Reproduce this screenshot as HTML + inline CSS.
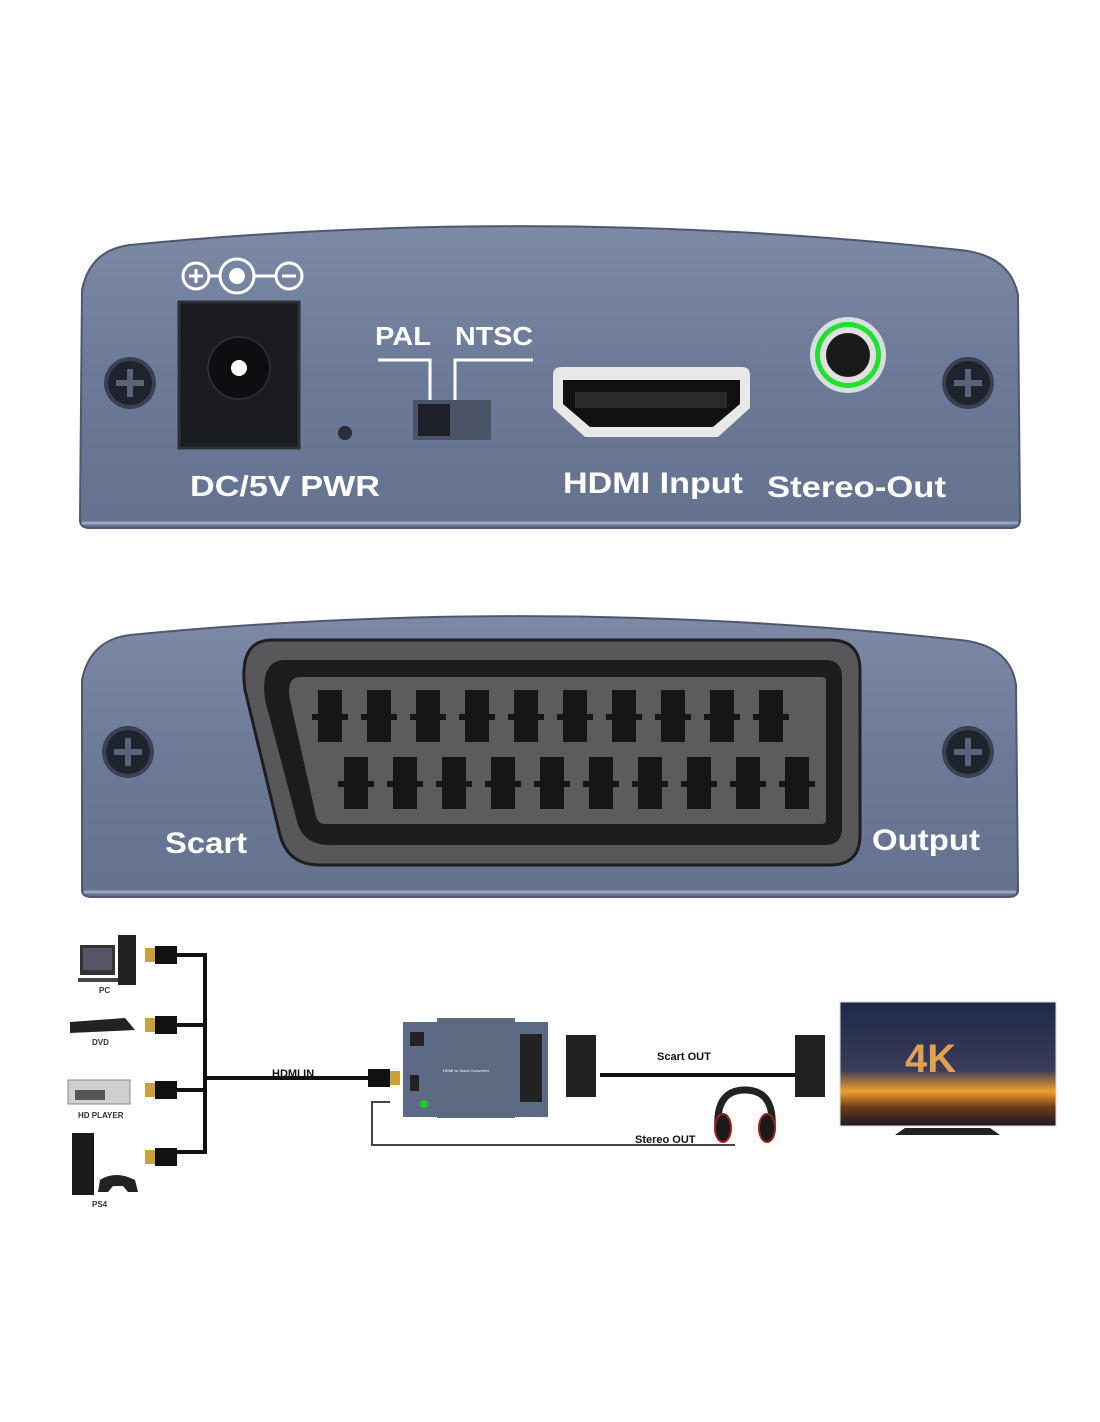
<!DOCTYPE html>
<html><head><meta charset="utf-8"><style>
html,body{margin:0;padding:0;background:#fff}
svg{display:block}
text{font-family:"Liberation Sans",sans-serif;font-weight:bold}
</style></head><body>
<svg width="1100" height="1422" viewBox="0 0 1100 1422" xmlns="http://www.w3.org/2000/svg">
<defs>
<linearGradient id="pg" x1="0" y1="0" x2="0" y2="1">
<stop offset="0" stop-color="#7d8aa6"/><stop offset="0.5" stop-color="#6c7a97"/><stop offset="1" stop-color="#65728f"/>
</linearGradient>
<linearGradient id="tv" x1="0" y1="0" x2="0" y2="1">
<stop offset="0" stop-color="#1c2a4a"/><stop offset="0.55" stop-color="#3a3c58"/><stop offset="0.72" stop-color="#f0a030"/><stop offset="0.85" stop-color="#6a3a18"/><stop offset="1" stop-color="#1a1a22"/>
</linearGradient>
<g id="screw"><circle r="26" fill="#3a4152"/><circle r="22" fill="#1e232d"/><path d="M-3,-14h6v11h11v6h-11v11h-6v-11h-11v-6h11z" fill="#5a6478"/></g>
<g id="pin"><rect x="-12" y="0" width="24" height="52" fill="#161616"/><rect x="-18" y="24" width="36" height="6" fill="#161616"/></g>
<g id="hdmiplug"><rect x="0" y="-7" width="10" height="14" fill="#c8a040"/><rect x="10" y="-9" width="22" height="18" fill="#111"/></g>
</defs>

<!-- top panel -->
<path d="M82,290 Q90,250 130,245 Q540,205 960,250 Q1010,255 1018,295 L1020,520 Q1020,528 1010,528 L90,528 Q80,528 80,520 Z" fill="url(#pg)" stroke="#4e5870" stroke-width="2"/>
<line x1="82" y1="523" x2="1018" y2="523" stroke="#9aa6bd" stroke-width="3"/>
<use href="#screw" x="130" y="383"/>
<use href="#screw" x="968" y="383"/>
<circle cx="196" cy="276" r="13" fill="none" stroke="#fff" stroke-width="3"/>
<path d="M189,276h14M196,269v14" stroke="#fff" stroke-width="3"/>
<circle cx="237" cy="276" r="17" fill="none" stroke="#fff" stroke-width="3"/>
<circle cx="237" cy="276" r="8" fill="#fff"/>
<path d="M209,276h11M254,276h22" stroke="#fff" stroke-width="3"/>
<circle cx="289" cy="276" r="13" fill="none" stroke="#fff" stroke-width="3"/>
<path d="M282,276h14" stroke="#fff" stroke-width="3"/>
<rect x="179" y="302" width="120" height="146" fill="#1a1c20" stroke="#2c3038" stroke-width="3"/>
<circle cx="239" cy="368" r="31" fill="#0d0e10" stroke="#2a2d33" stroke-width="2"/>
<circle cx="239" cy="368" r="8" fill="#fff"/>
<circle cx="345" cy="433" r="7" fill="#2a2e38"/>
<text x="190" y="496" font-size="29" fill="#fff" textLength="190" lengthAdjust="spacingAndGlyphs">DC/5V PWR</text>
<text x="375" y="345" font-size="26" fill="#fff" textLength="56" lengthAdjust="spacingAndGlyphs">PAL</text>
<text x="455" y="345" font-size="26" fill="#fff" textLength="78" lengthAdjust="spacingAndGlyphs">NTSC</text>
<path d="M378,360h52v40M533,360h-78v40" fill="none" stroke="#fff" stroke-width="3"/>
<rect x="413" y="400" width="78" height="40" fill="#4b5466"/>
<rect x="418" y="404" width="32" height="32" fill="#1d2028"/>
<path d="M553,375 Q553,367 562,367 L742,367 Q750,367 750,375 L750,408 L718,437 L585,437 L553,408 Z" fill="#e8e8e8"/>
<path d="M563,380 L740,380 L740,404 L713,427 L590,427 L563,404 Z" fill="#111"/>
<rect x="575" y="392" width="152" height="16" fill="#2a2a2a"/>
<text x="563" y="493" font-size="30" fill="#fff" textLength="180" lengthAdjust="spacingAndGlyphs">HDMI Input</text>
<circle cx="848" cy="355" r="38" fill="#d8dde0"/>
<circle cx="848" cy="355" r="33" fill="#22e030"/>
<circle cx="848" cy="355" r="28" fill="#e0e0e0"/>
<circle cx="848" cy="355" r="22" fill="#1a1a1a"/>
<text x="767" y="497" font-size="30" fill="#fff" textLength="179" lengthAdjust="spacingAndGlyphs">Stereo-Out</text>

<!-- second panel -->
<path d="M82,680 Q90,640 130,635 Q540,595 960,640 Q1010,645 1016,685 L1018,890 Q1018,897 1008,897 L92,897 Q82,897 82,890 Z" fill="url(#pg)" stroke="#4e5870" stroke-width="2"/>
<line x1="84" y1="892" x2="1016" y2="892" stroke="#9aa6bd" stroke-width="3"/>
<use href="#screw" x="128" y="752"/>
<use href="#screw" x="968" y="752"/>
<path d="M272,640 L830,640 Q860,640 860,670 L860,835 Q860,865 830,865 L320,865 Q288,865 280,835 L245,690 Q238,640 272,640 Z" fill="#58585b" stroke="#1e1e20" stroke-width="3"/>
<path d="M285,660 L825,660 Q842,660 842,677 L842,828 Q842,845 825,845 L330,845 Q305,845 298,825 L265,700 Q260,660 285,660 Z" fill="#1c1c1e"/>
<path d="M300,677 L822,677 Q826,677 826,681 L826,820 Q826,824 822,824 L325,824 Q318,824 316,816 L290,700 Q286,677 300,677 Z" fill="#5c5c5f"/>
<g>
<use href="#pin" x="330" y="690"/><use href="#pin" x="379" y="690"/><use href="#pin" x="428" y="690"/><use href="#pin" x="477" y="690"/><use href="#pin" x="526" y="690"/><use href="#pin" x="575" y="690"/><use href="#pin" x="624" y="690"/><use href="#pin" x="673" y="690"/><use href="#pin" x="722" y="690"/><use href="#pin" x="771" y="690"/>
<use href="#pin" x="356" y="757"/><use href="#pin" x="405" y="757"/><use href="#pin" x="454" y="757"/><use href="#pin" x="503" y="757"/><use href="#pin" x="552" y="757"/><use href="#pin" x="601" y="757"/><use href="#pin" x="650" y="757"/><use href="#pin" x="699" y="757"/><use href="#pin" x="748" y="757"/><use href="#pin" x="797" y="757"/>
</g>
<text x="165" y="853" font-size="30" fill="#fff" textLength="82" lengthAdjust="spacingAndGlyphs">Scart</text>
<text x="872" y="850" font-size="30" fill="#fff" textLength="108" lengthAdjust="spacingAndGlyphs">Output</text>

<!-- bottom diagram -->
<g stroke="#111" stroke-width="4" fill="none">
<path d="M175,955 H205 V1152 H175"/>
<path d="M175,1025 H205"/><path d="M175,1090 H205"/>
<path d="M205,1078 H380"/>
<path d="M600,1075 H795"/>
</g>
<path d="M390,1102 H372 V1145 H735" stroke="#444" stroke-width="2" fill="none"/>
<use href="#hdmiplug" x="145" y="955"/><use href="#hdmiplug" x="145" y="1025"/><use href="#hdmiplug" x="145" y="1090"/><use href="#hdmiplug" x="145" y="1157"/>
<g transform="translate(400,1078) scale(-1,1)"><use href="#hdmiplug" x="0" y="0"/></g>
<rect x="80" y="945" width="35" height="30" fill="#333"/><rect x="83" y="948" width="29" height="22" fill="#556"/><rect x="118" y="935" width="18" height="50" fill="#222"/><rect x="78" y="978" width="40" height="4" fill="#444"/>
<text x="99" y="993" font-size="8" fill="#333">PC</text>
<path d="M70,1022 L125,1018 L135,1030 L70,1033 Z" fill="#222"/>
<text x="92" y="1045" font-size="8" fill="#333">DVD</text>
<rect x="68" y="1080" width="62" height="24" fill="#cfcfcf" stroke="#888"/><rect x="75" y="1090" width="30" height="10" fill="#555"/>
<text x="78" y="1118" font-size="8" fill="#333">HD PLAYER</text>
<rect x="72" y="1133" width="22" height="62" fill="#1a1a1a"/><path d="M100,1180 q15,-10 35,0 l3,12 -10,0 -5,-6 -10,0 -5,6 -10,0z" fill="#222"/>
<text x="92" y="1207" font-size="8" fill="#333">PS4</text>
<text x="272" y="1077" font-size="11" fill="#111">HDMI IN</text>
<rect x="403" y="1022" width="35" height="95" fill="#5d6a86"/>
<rect x="437" y="1018" width="78" height="100" fill="#5d6a80"/>
<rect x="515" y="1022" width="33" height="95" fill="#5d6a86"/>
<rect x="520" y="1034" width="22" height="68" fill="#222"/>
<rect x="410" y="1032" width="14" height="14" fill="#222"/><rect x="410" y="1075" width="9" height="16" fill="#222"/><circle cx="424" cy="1104" r="4" fill="#2c2"/>
<text x="443" y="1072" font-size="4" fill="#ddd">HDMI to Scart Converter</text>
<rect x="566" y="1035" width="30" height="62" fill="#222"/>
<rect x="795" y="1035" width="30" height="62" fill="#222"/>
<text x="657" y="1060" font-size="11" fill="#111">Scart OUT</text>
<text x="635" y="1143" font-size="11" fill="#111">Stereo OUT</text>
<path d="M718,1130 Q715,1090 745,1090 Q775,1090 772,1130" fill="none" stroke="#222" stroke-width="7"/>
<ellipse cx="723" cy="1128" rx="8" ry="14" fill="#1a1a1a" stroke="#a02020" stroke-width="2"/>
<ellipse cx="767" cy="1128" rx="8" ry="14" fill="#1a1a1a" stroke="#a02020" stroke-width="2"/>
<rect x="840" y="1002" width="216" height="124" fill="url(#tv)" stroke="#ddd"/>
<text x="905" y="1072" font-size="40" fill="#e0a050">4K</text>
<path d="M905,1128 L990,1128 L1000,1135 L895,1135 Z" fill="#222"/>
</svg>
</body></html>
